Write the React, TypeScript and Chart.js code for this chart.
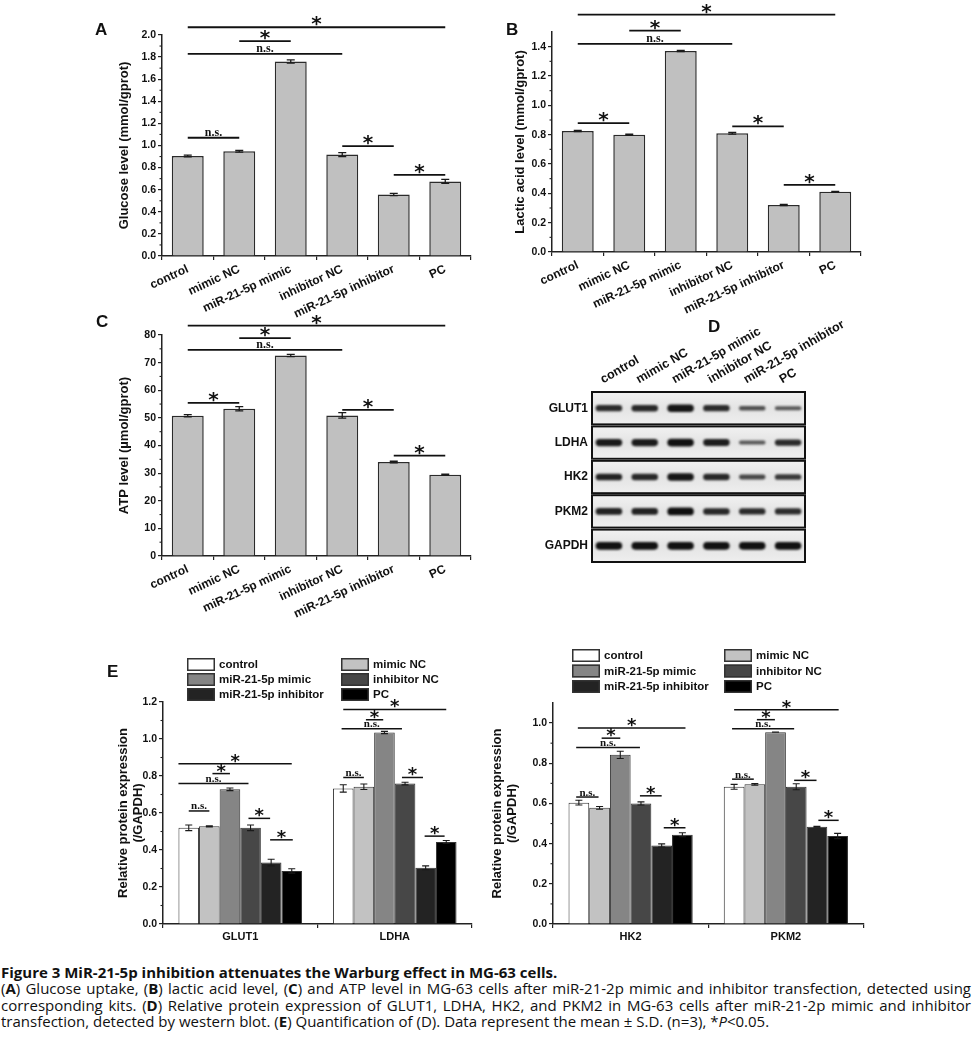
import React, { useEffect, useRef } from 'react';
import { Chart, registerables } from 'chart.js';
Chart.register(...registerables);

const SANS = '"Liberation Sans", Arial, Helvetica, sans-serif';
const SERIF = '"Liberation Serif", "Times New Roman", serif';
const STAR_FONT = '"DejaVu Sans", sans-serif';
Chart.defaults.font.family = SANS;
Chart.defaults.color = '#111';

// ---------- data ----------
const groups = ['control', 'mimic NC', 'miR-21-5p mimic', 'inhibitor NC', 'miR-21-5p inhibitor', 'PC'];

const glucose = [0.905, 0.948, 1.76, 0.918, 0.556, 0.675];
const glucoseErr = [0.008, 0.008, 0.015, 0.018, 0.01, 0.018];
// [from group, to group, bracket height, label]
const glucoseSig = [
  [0, 1, 1.07, 'n.s.'], [3, 4, 0.995, '*'], [4, 5, 0.735, '*'],
  [0, 3, 1.83, 'n.s.'], [1, 2, 1.945, '*'], [0, 5, 2.07, '*'],
];

const lactic = [0.825, 0.8, 1.37, 0.81, 0.32, 0.41];
const lacticErr = [0.004, 0.004, 0.004, 0.006, 0.004, 0.004];
const lacticSig = [
  [0, 1, 0.879, '*'], [3, 4, 0.857, '*'], [4, 5, 0.458, '*'],
  [0, 3, 1.419, 'n.s.'], [1, 2, 1.509, '*'], [0, 5, 1.618, '*'],
];

const atp = [50.8, 53.3, 72.6, 50.9, 34.0, 29.4];
const atpErr = [0.4, 0.8, 0.4, 1.0, 0.3, 0.2];
const atpSig = [
  [0, 1, 55.4, '*'], [3, 4, 52.9, '*'], [4, 5, 36.3, '*'],
  [0, 3, 74.6, 'n.s.'], [1, 2, 78.9, '*'], [0, 5, 83.4, '*'],
];

// western blot band intensities (0..1) per lane
const blotRows = ['GLUT1', 'LDHA', 'HK2', 'PKM2', 'GAPDH'];
const glut1Band = [0.8, 0.82, 0.95, 0.8, 0.55, 0.5];
const ldhaBand = [0.92, 0.9, 0.97, 0.88, 0.5, 0.8];
const hk2Band = [0.85, 0.82, 0.95, 0.82, 0.62, 0.72];
const pkm2Band = [0.85, 0.85, 0.98, 0.82, 0.8, 0.78];
const gapdhBand = [0.97, 0.97, 0.97, 0.97, 0.97, 0.97];
const blotBands = [glut1Band, ldhaBand, hk2Band, pkm2Band, gapdhBand];

// relative protein expression (/GAPDH), one value per group
const proteinsLeft = ['GLUT1', 'LDHA'];
const glut1Expr = [0.52, 0.528, 0.728, 0.52, 0.332, 0.287];
const glut1Err = [0.015, 0.003, 0.007, 0.015, 0.018, 0.012];
const ldhaExpr = [0.733, 0.742, 1.035, 0.759, 0.304, 0.443];
const ldhaErr = [0.02, 0.015, 0.006, 0.007, 0.01, 0.008];
const proteinsRight = ['HK2', 'PKM2'];
const hk2Expr = [0.604, 0.578, 0.842, 0.6, 0.391, 0.444];
const hk2Err = [0.012, 0.007, 0.018, 0.008, 0.008, 0.01];
const pkm2Expr = [0.683, 0.695, 0.955, 0.683, 0.484, 0.438];
const pkm2Err = [0.012, 0.004, 0.0, 0.015, 0.002, 0.013];
// [protein, from bar, to bar, bracket height, label]
const leftSig = [
  [0, 0, 1, 0.611, 'n.s.'], [0, -0.5, 2.9, 0.759, 'n.s.'], [0, 1.15, 2, 0.813, '*'],
  [0, -0.5, 5, 0.866, '*'], [0, 2.9, 3.95, 0.571, '*'], [0, 3.95, 5.05, 0.455, '*'],
  [1, 0, 1, 0.792, 'n.s.'], [1, -0.08, 2.85, 1.055, 'n.s.'], [1, 1.1, 1.94, 1.104, '*'],
  [1, 0, 5, 1.16, '*'], [1, 2.85, 3.87, 0.792, '*'], [1, 3.95, 4.92, 0.475, '*'],
];
const rightSig = [
  [0, -0.13, 0.95, 0.632, 'n.s.'], [0, -0.13, 2.95, 0.879, 'n.s.'], [0, 1.1, 2.0, 0.925, '*'],
  [0, -0.05, 5.15, 0.975, '*'], [0, 2.95, 4.0, 0.638, '*'], [0, 4.1, 5.15, 0.479, '*'],
  [1, -0.1, 0.95, 0.721, 'n.s.'], [1, -0.1, 2.9, 0.972, 'n.s.'], [1, 1.1, 1.97, 1.017, '*'],
  [1, 0, 5.05, 1.066, '*'], [1, 2.9, 3.98, 0.715, '*'], [1, 4.07, 5.05, 0.516, '*'],
];
const groupColors = ['#ffffff', '#c2c2c2', '#858585', '#474747', '#232323', '#000000'];

// ---------- plugins ----------
const errorBarPlugin: any = {
  id: 'errBars',
  afterDatasetsDraw(chart: any, _a: any, o: any) {
    const ctx = chart.ctx;
    const ys = chart.scales.y;
    chart.data.datasets.forEach((ds: any, di: number) => {
      if (!ds.errors) return;
      const meta = chart.getDatasetMeta(di);
      meta.data.forEach((el: any, i: number) => {
        const v = ds.data[i];
        const e = ds.errors[i];
        if (e == null) return;
        const x = el.x;
        const yt = ys.getPixelForValue(v + e);
        const yb = ys.getPixelForValue(v - e);
        const c = o.cap || 3.5;
        ctx.save();
        ctx.strokeStyle = '#1a1a1a';
        ctx.lineWidth = o.width || 1.2;
        ctx.beginPath();
        ctx.moveTo(x, yt); ctx.lineTo(x, yb);
        ctx.moveTo(x - c, yt); ctx.lineTo(x + c, yt);
        ctx.moveTo(x - c, yb); ctx.lineTo(x + c, yb);
        ctx.stroke();
        ctx.restore();
      });
    });
  },
};

const sigPlugin: any = {
  id: 'sig',
  afterDraw(chart: any, _a: any, o: any) {
    if (!o || !o.items) return;
    const ctx = chart.ctx;
    const xs = chart.scales.x;
    const ys = chart.scales.y;
    o.items.forEach((it: any) => {
      let x1: number, x2: number, yv: number, label: string;
      if (o.grouped) {
        const [cat, p1, p2, yy, lab] = it;
        const m0 = chart.getDatasetMeta(0).data[cat];
        const m1 = chart.getDatasetMeta(1).data[cat];
        const w = m1.x - m0.x;
        x1 = m0.x + p1 * w; x2 = m0.x + p2 * w; yv = yy; label = lab;
      } else {
        const [a, b, yy, lab] = it;
        x1 = xs.getPixelForValue(a); x2 = xs.getPixelForValue(b); yv = yy; label = lab;
      }
      const py = ys.getPixelForValue(yv);
      ctx.save();
      ctx.strokeStyle = '#111';
      ctx.lineWidth = o.lineWidth || 1.6;
      ctx.beginPath(); ctx.moveTo(x1, py); ctx.lineTo(x2, py); ctx.stroke();
      ctx.fillStyle = '#111';
      ctx.textAlign = 'center';
      ctx.textBaseline = 'alphabetic';
      const cx = (x1 + x2) / 2;
      if (label === '*') {
        ctx.font = `bold ${o.starSize || 18}px ${STAR_FONT}`;
        const m = ctx.measureText('*');
        const d = m.actualBoundingBoxDescent || -6;
        ctx.fillText('*', cx, py - 1 - d);
      } else {
        ctx.font = `bold ${o.nsSize || 12}px ${SERIF}`;
        ctx.fillText(label, cx, py - 1.5);
      }
      ctx.restore();
    });
  },
};

const minorTickPlugin: any = {
  id: 'minorTicks',
  afterDraw(chart: any, _a: any, o: any) {
    if (!o || !o.enabled) return;
    const ys = chart.scales.y;
    const ctx = chart.ctx;
    const t = ys.ticks;
    ctx.save();
    ctx.strokeStyle = '#222';
    ctx.lineWidth = 1.1;
    for (let i = 0; i < t.length - 1; i++) {
      const p = ys.getPixelForValue((t[i].value + t[i + 1].value) / 2);
      ctx.beginPath(); ctx.moveTo(ys.right, p); ctx.lineTo(ys.right - 2.5, p); ctx.stroke();
    }
    ctx.restore();
  },
};

const gridLegendPlugin: any = {
  id: 'gridLegend',
  afterDraw(chart: any, _a: any, o: any) {
    if (!o || !o.display) return;
    const ctx = chart.ctx;
    ctx.save();
    chart.data.datasets.forEach((ds: any, i: number) => {
      const col = i % 2;
      const row = Math.floor(i / 2);
      const bx = col === 0 ? o.x1 : o.x2;
      const by = o.y + row * o.rowH;
      ctx.fillStyle = ds.backgroundColor;
      ctx.fillRect(bx, by, o.boxW, o.boxH);
      ctx.strokeStyle = '#333';
      ctx.lineWidth = 1.5;
      ctx.strokeRect(bx + 0.75, by + 0.75, o.boxW - 1.5, o.boxH - 1.5);
      ctx.fillStyle = '#111';
      ctx.font = `bold 11.5px ${SANS}`;
      ctx.textBaseline = 'middle';
      ctx.textAlign = 'left';
      ctx.fillText(ds.label, bx + o.boxW + 4, by + o.boxH / 2 + 0.5);
    });
    ctx.restore();
  },
};

const blotPlugin: any = {
  id: 'blotRows',
  beforeDatasetsDraw(chart: any) {
    const { ctx, chartArea: ca } = chart;
    const ys = chart.scales.y;
    ctx.save();
    for (let i = 0; i < blotRows.length; i++) {
      const a = ys.getPixelForValue(i);
      const b = ys.getPixelForValue(i + 1);
      const top = Math.min(a, b);
      const h = Math.abs(b - a);
      const g = ctx.createLinearGradient(0, top, 0, top + h);
      g.addColorStop(0, '#f2f2f2');
      g.addColorStop(0.5, '#e4e4e4');
      g.addColorStop(1, '#efefef');
      ctx.fillStyle = g;
      ctx.fillRect(ca.left, top, ca.right - ca.left, h);
      ctx.strokeStyle = '#111';
      ctx.lineWidth = 2;
      ctx.strokeRect(ca.left + 1, top + 1, ca.right - ca.left - 2, h - 2);
    }
    ctx.restore();
    ctx.filter = 'blur(1.3px)';
  },
  afterDatasetsDraw(chart: any) {
    chart.ctx.filter = 'none';
  },
};

// ---------- config builders ----------
function simpleBarConfig(values: number[], errors: number[], sig: any[], yMax: number, step: number,
  digits: number, title: string, top: number, right: number, titlePad: number, xh: number): any {
  return {
    type: 'bar',
    data: {
      labels: groups,
      datasets: [{
        data: values, errors,
        backgroundColor: '#c0c0c0', borderColor: '#2b2b2b', borderWidth: 1.5,
        categoryPercentage: 1, barPercentage: 0.62,
      }],
    },
    options: {
      animation: false, responsive: true, maintainAspectRatio: false,
      layout: { padding: { left: 0, top, right, bottom: 0 } },
      plugins: {
        legend: { display: false }, tooltip: { enabled: false },
        errBars: { cap: 4, width: 1.3 },
        sig: { items: sig, starSize: 20, nsSize: 12, lineWidth: 1.8 },
        minorTicks: { enabled: true },
      },
      scales: {
        x: {
          grid: { drawOnChartArea: false, tickLength: 4, color: '#222', lineWidth: 1.2 },
          border: { color: '#222', width: 1.5 },
          ticks: { minRotation: 25, maxRotation: 25, autoSkip: false, padding: 2, color: '#111', font: { size: 12, weight: 'bold' } },
          afterFit: (s: any) => { s.height = xh; },
        },
        y: {
          min: 0, max: yMax,
          grid: { drawOnChartArea: false, tickLength: 4, color: '#222', lineWidth: 1.2 },
          border: { color: '#222', width: 1.5 },
          ticks: { stepSize: step, includeBounds: false, padding: 2, color: '#111', font: { size: 10.5, weight: 'bold' },
            callback: (v: number) => Number(v).toFixed(digits) },
          title: { display: true, text: title, color: '#111', font: { size: 13, weight: 'bold' }, padding: { top: titlePad, bottom: 0 } },
          afterFit: (s: any) => { s.width = 72; },
        },
      },
    },
    plugins: [errorBarPlugin, sigPlugin, minorTickPlugin],
  };
}

function groupedConfig(cats: string[], exprs: number[][], errs: number[][], sig: any[], yMax: number,
  top: number, right: number, titlePad: number, legend: any): any {
  return {
    type: 'bar',
    data: {
      labels: cats,
      datasets: groups.map((g, i) => ({
        label: g,
        data: exprs.map((arr) => arr[i]),
        errors: errs.map((arr) => arr[i]),
        backgroundColor: groupColors[i], borderColor: '#333', borderWidth: 1,
        categoryPercentage: 0.8, barPercentage: 1,
      })),
    },
    options: {
      animation: false, responsive: true, maintainAspectRatio: false,
      layout: { padding: { left: 0, top, right, bottom: 0 } },
      plugins: {
        legend: { display: false }, tooltip: { enabled: false },
        errBars: { cap: 3.5, width: 1.1 },
        sig: { items: sig, grouped: true, starSize: 18, nsSize: 11, lineWidth: 1.5 },
        minorTicks: { enabled: true },
        gridLegend: legend,
      },
      scales: {
        x: {
          grid: { drawOnChartArea: false, tickLength: 4, color: '#222', lineWidth: 1.2 },
          border: { color: '#222', width: 1.5 },
          ticks: { maxRotation: 0, autoSkip: false, padding: 2, color: '#111', font: { size: 11, weight: 'bold' } },
          afterFit: (s: any) => { s.height = 26; },
        },
        y: {
          min: 0, max: yMax,
          grid: { drawOnChartArea: false, tickLength: 4, color: '#222', lineWidth: 1.2 },
          border: { color: '#222', width: 1.5 },
          ticks: { stepSize: 0.2, includeBounds: false, padding: 2, color: '#111', font: { size: 10.5, weight: 'bold' },
            callback: (v: number) => Number(v).toFixed(1) },
          title: { display: true, text: ['Relative protein expression', '(/GAPDH)'], color: '#111',
            font: { size: 13, weight: 'bold' }, padding: { top: titlePad, bottom: 0 } },
          afterFit: (s: any) => { s.width = 73; },
        },
      },
    },
    plugins: [errorBarPlugin, sigPlugin, minorTickPlugin, gridLegendPlugin],
  };
}

function blotConfig(): any {
  return {
    type: 'bar',
    data: {
      labels: groups,
      datasets: blotRows.map((name, r) => ({
        label: name,
        data: blotBands[r].map((v) => [r + 0.5 - 0.115 * v, r + 0.5 + 0.115 * v]),
        backgroundColor: blotBands[r].map((v) => `rgba(12,12,12,${(0.3 + 0.7 * v).toFixed(2)})`),
        borderWidth: 0, borderRadius: 5, borderSkipped: false,
        grouped: false, categoryPercentage: 1, barPercentage: 0.74,
      })),
    },
    options: {
      animation: false, responsive: true, maintainAspectRatio: false,
      layout: { padding: { left: 0, top: 0, right: 64, bottom: 17 } },
      plugins: { legend: { display: false }, tooltip: { enabled: false } },
      scales: {
        x: {
          position: 'top',
          grid: { display: false, drawTicks: false },
          border: { display: false },
          ticks: { minRotation: 30, maxRotation: 30, autoSkip: false, padding: 4, color: '#111', font: { size: 12.5, weight: 'bold' } },
          afterFit: (s: any) => { s.height = 101; },
        },
        y: {
          min: 0, max: 5, reverse: true,
          grid: { display: false, drawTicks: false },
          border: { display: false },
          afterBuildTicks: (s: any) => { s.ticks = blotRows.map((_, i) => ({ value: i + 0.5 })); },
          ticks: { padding: 3, color: '#111', font: { size: 12, weight: 'bold' },
            callback: (v: number) => blotRows[Math.floor(v)] },
          afterFit: (s: any) => { s.width = 61; },
        },
      },
    },
    plugins: [blotPlugin],
  };
}

// ---------- components ----------
function ChartBox({ left, top, width, height, make }: any) {
  const ref = useRef<HTMLCanvasElement>(null);
  useEffect(() => {
    const chart = new Chart(ref.current as HTMLCanvasElement, make());
    return () => chart.destroy();
  }, []);
  return (
    <div style={{ position: 'absolute', left, top, width, height }}>
      <canvas ref={ref} />
    </div>
  );
}

function Letter({ ch, left, top }: any) {
  return (
    <div style={{ position: 'absolute', left, top, font: `bold 17px ${SANS}`, lineHeight: '17px', color: '#111' }}>{ch}</div>
  );
}

const capFont = '"Open Sans", "Noto Sans", sans-serif';
const just: any = { textAlign: 'justify', textAlignLast: 'justify', whiteSpace: 'nowrap' };

export default function App() {
  return (
    <div style={{ position: 'absolute', left: 0, top: 0, width: 974, height: 1059, background: '#fff', overflow: 'hidden' }}>
      <ChartBox left={90} top={0} width={390} height={320}
        make={() => simpleBarConfig(glucose, glucoseErr, glucoseSig, 2.0, 0.2, 1, 'Glucose level (mmol/gprot)', 35, 9, 27, 64)} />
      <ChartBox left={480} top={0} width={400} height={320}
        make={() => simpleBarConfig(lactic, lacticErr, lacticSig, 1.5, 0.2, 1, 'Lactic acid level (mmol/gprot)', 32, 19, 33, 68)} />
      <ChartBox left={90} top={300} width={390} height={320}
        make={() => simpleBarConfig(atp, atpErr, atpSig, 80, 10, 0, 'ATP level (\u00b5mol/gprot)', 35, 9, 27, 64)} />
      <ChartBox left={530} top={290} width={340} height={290} make={() => blotConfig()} />
      <ChartBox left={90} top={640} width={390} height={310}
        make={() => groupedConfig(proteinsLeft, [glut1Expr, ldhaExpr], [glut1Err, ldhaErr], leftSig, 1.2, 62, 8, 25.3,
          { display: true, x1: 97, x2: 251, y: 18, rowH: 15, boxW: 28, boxH: 13 })} />
      <ChartBox left={480} top={640} width={400} height={310}
        make={() => groupedConfig(proteinsRight, [hk2Expr, pkm2Expr], [hk2Err, pkm2Err], rightSig, 1.1, 63, 16.5, 9.3,
          { display: true, x1: 92, x2: 244, y: 9, rowH: 15.5, boxW: 28, boxH: 13 })} />

      <Letter ch="A" left={95} top={21} />
      <Letter ch="B" left={506} top={21} />
      <Letter ch="C" left={96} top={313} />
      <Letter ch="D" left={708} top={318} />
      <Letter ch="E" left={107} top={663} />

      <div style={{ position: 'absolute', left: 1, top: 964, width: 970, font: `15px ${capFont}`, lineHeight: '16.4px', color: '#111' }}>
        <div style={{ fontWeight: 'bold', whiteSpace: 'nowrap' }}>Figure 3 MiR-21-5p inhibition attenuates the Warburg effect in MG-63 cells.</div>
        <div style={just}>(<b>A</b>) Glucose uptake, (<b>B</b>) lactic acid level, (<b>C</b>) and ATP level in MG-63 cells after miR-21-2p mimic and inhibitor transfection, detected using</div>
        <div style={just}>corresponding kits. (<b>D</b>) Relative protein expression of GLUT1, LDHA, HK2, and PKM2 in MG-63 cells after miR-21-2p mimic and inhibitor</div>
        <div style={{ whiteSpace: 'nowrap' }}>transfection, detected by western blot. (<b>E</b>) Quantification of (D). Data represent the mean ± S.D. (n=3), *<i>P</i>&lt;0.05.</div>
      </div>
    </div>
  );
}
